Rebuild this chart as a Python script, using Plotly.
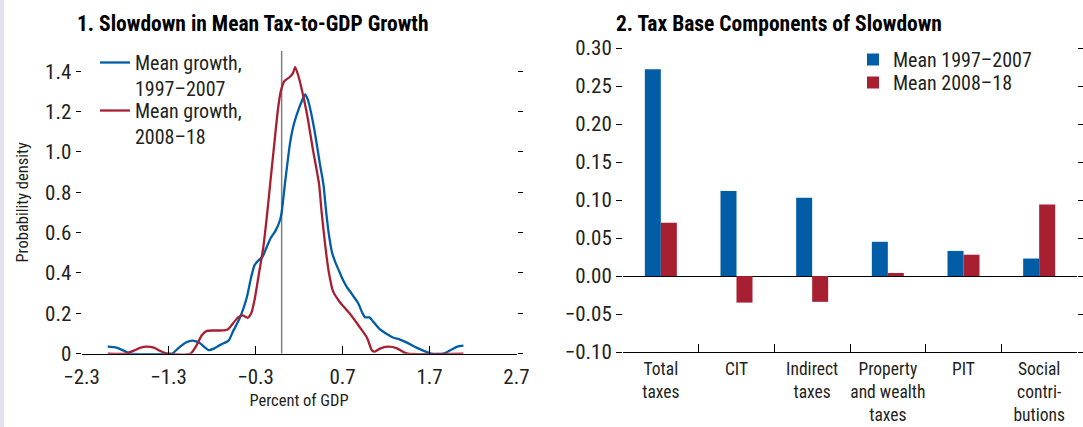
import plotly.graph_objects as go

# ---- Panel 1: kernel density of mean tax-to-GDP growth (percent of GDP) ----
growth_x_1997_2007 = [-2.00, -1.90, -1.80, -1.74, -1.30, -1.26, -1.18, -1.10, -1.03, -0.95,
                      -0.88, -0.84, -0.78, -0.70, -0.61, -0.56, -0.50, -0.46, -0.40, -0.35,
                      -0.31, -0.26, -0.22, -0.18, -0.13, -0.07, -0.02, 0.00, 0.04, 0.095,
                      0.13, 0.17, 0.23, 0.27, 0.30, 0.325, 0.38, 0.44, 0.48, 0.51,
                      0.54, 0.58, 0.62, 0.66, 0.70, 0.75, 0.80, 0.88, 0.93, 0.96,
                      1.01, 1.05, 1.13, 1.20, 1.28, 1.36, 1.44, 1.55, 1.67, 1.72,
                      1.86, 1.95, 2.02, 2.09]
growth_y_1997_2007 = [0.035, 0.030, 0.012, 0.000, 0.000, 0.000, 0.030, 0.055, 0.065, 0.055,
                      0.030, 0.018, 0.025, 0.045, 0.065, 0.110, 0.160, 0.200, 0.280, 0.380,
                      0.440, 0.465, 0.480, 0.520, 0.570, 0.610, 0.660, 0.700, 0.850, 1.040,
                      1.120, 1.180, 1.250, 1.285, 1.260, 1.220, 1.100, 0.940, 0.840, 0.710,
                      0.600, 0.500, 0.450, 0.410, 0.370, 0.330, 0.300, 0.250, 0.200, 0.180,
                      0.180, 0.160, 0.120, 0.100, 0.080, 0.070, 0.055, 0.030, 0.008, 0.000,
                      0.000, 0.020, 0.035, 0.040]

growth_x_2008_18 = [-2.00, -1.80, -1.70, -1.62, -1.55, -1.47, -1.40, -1.32, -1.05, -0.98,
                    -0.92, -0.86, -0.78, -0.70, -0.62, -0.56, -0.50, -0.45, -0.39, -0.35,
                    -0.31, -0.26, -0.21, -0.17, -0.13, -0.08, -0.04, -0.01, 0.03, 0.09,
                    0.13, 0.155, 0.19, 0.22, 0.29, 0.36, 0.43, 0.46, 0.50, 0.54,
                    0.59, 0.67, 0.78, 0.90, 0.98, 1.04, 1.07, 1.13, 1.22, 1.32,
                    1.40, 1.45, 2.09]
growth_y_2008_18 = [0.000, 0.000, 0.015, 0.030, 0.035, 0.030, 0.015, 0.000, 0.000, 0.040,
                    0.090, 0.113, 0.115, 0.115, 0.120, 0.150, 0.180, 0.190, 0.178, 0.200,
                    0.270, 0.400, 0.530, 0.680, 0.850, 1.060, 1.220, 1.300, 1.350, 1.370,
                    1.390, 1.420, 1.380, 1.330, 1.190, 1.010, 0.840, 0.700, 0.540, 0.410,
                    0.310, 0.255, 0.200, 0.130, 0.080, 0.015, 0.010, 0.025, 0.035, 0.028,
                    0.008, 0.000, 0.000]

density_ticks = [0, 0.2, 0.4, 0.6, 0.8, 1.0, 1.2, 1.4]
density_tick_labels = ["0", "0.2", "0.4", "0.6", "0.8", "1.0", "1.2", "1.4"]
gdp_ticks = [-2.3, -1.3, -0.3, 0.7, 1.7, 2.7]

# ---- Panel 2: tax base components ----
components = ["Total<br>taxes", "CIT", "Indirect<br>taxes", "Property<br>and wealth<br>taxes",
              "PIT", "Social<br>contri-<br>butions"]
mean_1997_2007 = [0.272, 0.112, 0.103, 0.045, 0.033, 0.023]
mean_2008_18 = [0.070, -0.035, -0.034, 0.004, 0.028, 0.094]

BLUE = "#005da6"
RED = "#a71f31"
TEXT = "#231f20"
FONT = "Roboto Condensed, Liberation Sans Narrow, Arial Narrow, sans-serif"

W, H = 1083, 427


def px_x(p):
    return p / W


def px_y(p):
    return 1 - p / H


fig = go.Figure()

fig.add_trace(go.Scatter(
    x=growth_x_1997_2007, y=growth_y_1997_2007, mode="lines",
    line=dict(color=BLUE, width=2.3, shape="spline", smoothing=0.6),
    name="Mean growth,<br>1997–2007", xaxis="x", yaxis="y", legend="legend"))
fig.add_trace(go.Scatter(
    x=growth_x_2008_18, y=growth_y_2008_18, mode="lines",
    line=dict(color=RED, width=2.3, shape="spline", smoothing=0.6),
    name="Mean growth,<br>2008–18", xaxis="x", yaxis="y", legend="legend2"))

fig.add_trace(go.Bar(x=components, y=mean_1997_2007, marker=dict(color=BLUE, line=dict(width=0)),
                     name="Mean 1997–2007", xaxis="x2", yaxis="y2", legend="legend3"))
fig.add_trace(go.Bar(x=components, y=mean_2008_18, marker=dict(color=RED, line=dict(width=0)),
                     name="Mean 2008–18", xaxis="x2", yaxis="y2", legend="legend4"))

legend_common = dict(xanchor="left", yanchor="top", bgcolor="rgba(0,0,0,0)",
                     valign="top", font=dict(size=20))

fig.update_layout(
    width=W, height=H,
    margin=dict(l=0, r=0, t=0, b=0, autoexpand=False),
    paper_bgcolor="white", plot_bgcolor="white",
    font=dict(family=FONT, size=21, color=TEXT),
    barmode="group", bargap=0.577, bargroupgap=0,
    xaxis=dict(domain=[px_x(81.6), px_x(516.5)], range=[-2.3, 2.7], anchor="y",
               automargin=False,
               tickvals=gdp_ticks, tickformat=".1f", ticks="inside", ticklen=8,
               tickwidth=1.3, tickcolor="black", showline=True, linecolor="black",
               linewidth=1.3, showgrid=False, zeroline=False, ticklabelstandoff=4,
               title=dict(text="Percent of GDP", standoff=6, font=dict(size=16.5))),
    yaxis=dict(domain=[px_y(353.7), px_y(51)], range=[0, 1.5], anchor="x",
               automargin=False,
               tickvals=density_ticks, ticktext=density_tick_labels, ticks="outside",
               ticklen=5, tickwidth=1.3, tickcolor="black", mirror="ticks",
               showline=False, showgrid=False, zeroline=False,
               title=dict(text="Probability density", standoff=12, font=dict(size=16.5))),
    xaxis2=dict(domain=[px_x(623), px_x(1077)], type="category", anchor="y2",
                automargin=False, tickangle=0, tickfont=dict(size=17.5),
                tickson="boundaries", ticks="inside", ticklen=8, tickwidth=1.3,
                tickcolor="black", showline=True, linecolor="black", linewidth=1.3,
                showgrid=False, zeroline=False, ticklabelstandoff=1),
    yaxis2=dict(domain=[px_y(352), px_y(48)], range=[-0.10, 0.30], anchor="x2",
                automargin=False,
                dtick=0.05, tickformat=".2f", ticks="outside", ticklen=6, tickwidth=1.3,
                tickcolor="black", mirror="ticks", showline=False, showgrid=False,
                zeroline=True, zerolinecolor="black", zerolinewidth=1.3),
    legend=dict(x=px_x(95), y=px_y(43), **legend_common),
    legend2=dict(x=px_x(95), y=px_y(91), **legend_common),
    legend3=dict(x=px_x(853), y=px_y(40), **legend_common),
    legend4=dict(x=px_x(853), y=px_y(63), **legend_common),
    showlegend=True,
    shapes=[
        # reference line at zero growth
        dict(type="line", xref="x", yref="y", x0=0, x1=0, y0=0, y1=1.5,
             line=dict(color="#808080", width=1.5), layer="below"),
        # thin tinted strip along the left edge
        dict(type="rect", xref="paper", yref="paper", x0=0, x1=px_x(4), y0=0, y1=1,
             fillcolor="#e4e0ee", line=dict(width=0)),
    ],
    annotations=[
        dict(text="<b>1. Slowdown in Mean Tax-to-GDP Growth</b>", xref="paper", yref="paper",
             x=px_x(75), y=px_y(24), xanchor="left", yanchor="middle", showarrow=False,
             font=dict(size=21.5, color="black")),
        dict(text="<b>2. Tax Base Components of Slowdown</b>", xref="paper", yref="paper",
             x=px_x(614), y=px_y(24), xanchor="left", yanchor="middle", showarrow=False,
             font=dict(size=21.5, color="black")),
    ],
)

fig.write_html("out.html")
